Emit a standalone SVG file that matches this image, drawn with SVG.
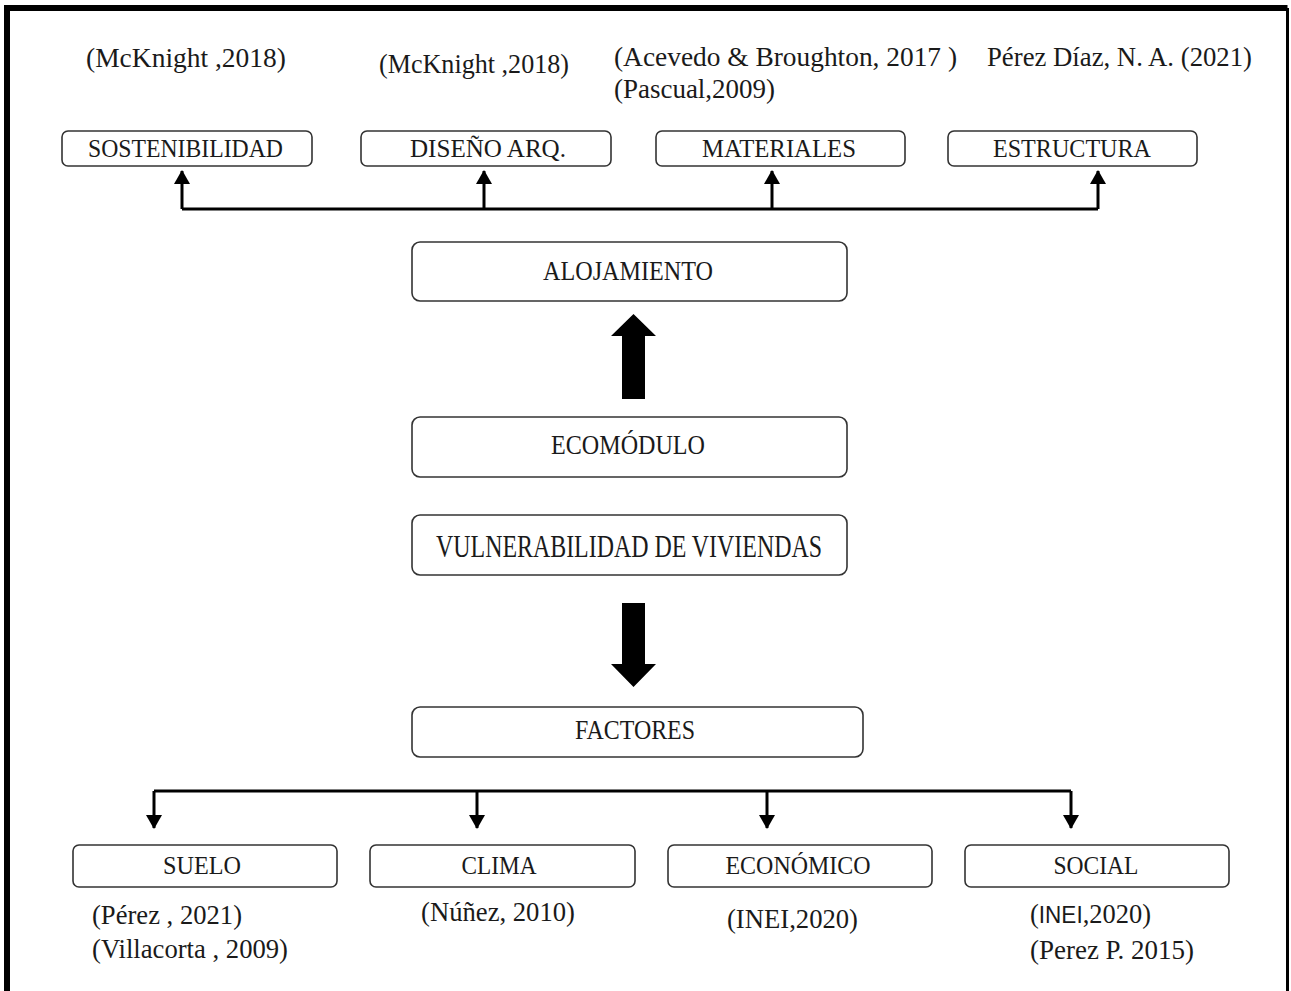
<svg xmlns="http://www.w3.org/2000/svg" width="1291" height="991" viewBox="0 0 1291 991">
<defs>
<style>
.bx{fill:#fff;stroke:#333;stroke-width:1.6}
.t{font-family:"Liberation Serif","Times New Roman",serif;fill:#1a1a1a}
.c{font-size:27px}
.b{font-size:25px}
.m{text-anchor:middle}
.ln{fill:none;stroke:#000;stroke-width:3}
.blk{fill:#000}
</style>
<marker id="ah" viewBox="0 0 14 16" refX="13" refY="8" markerWidth="14" markerHeight="16" markerUnits="userSpaceOnUse" orient="auto">
<path d="M0,0 L14,8 L0,16 Z" fill="#000"/>
</marker>
</defs>
<rect x="0" y="0" width="1291" height="991" fill="#fff"/>
<g id="frame">
<path d="M7,991 V8 H1287.5" fill="none" stroke="#000" stroke-width="6"/>
<path d="M1287.5,8 V991" stroke="#000" stroke-width="3"/>
</g>
<g id="citations-top" class="t c">
<text x="86" y="67" textLength="200" lengthAdjust="spacingAndGlyphs">(McKnight ,2018)</text>
<text x="379" y="73" textLength="190" lengthAdjust="spacingAndGlyphs">(McKnight ,2018)</text>
<text x="614" y="66" textLength="343" lengthAdjust="spacingAndGlyphs">(Acevedo &amp; Broughton, 2017  )</text>
<text x="614" y="98" textLength="161" lengthAdjust="spacingAndGlyphs">(Pascual,2009)</text>
<text x="987" y="66" textLength="265" lengthAdjust="spacingAndGlyphs">Pérez Díaz, N. A. (2021)</text>
</g>
<g id="n-sostenibilidad">
<rect class="bx" x="62" y="131" width="250" height="35" rx="6"/>
<text class="t b" x="88" y="157" textLength="195" lengthAdjust="spacingAndGlyphs">SOSTENIBILIDAD</text>
</g>
<g id="n-diseno">
<rect class="bx" x="361" y="131" width="250" height="35" rx="6"/>
<text class="t b" x="410" y="157" textLength="156" lengthAdjust="spacingAndGlyphs">DISEÑO ARQ.</text>
</g>
<g id="n-materiales">
<rect class="bx" x="656" y="131" width="249" height="35" rx="6"/>
<text class="t b" x="702" y="157" textLength="154" lengthAdjust="spacingAndGlyphs">MATERIALES</text>
</g>
<g id="n-estructura">
<rect class="bx" x="948" y="131" width="249" height="35" rx="6"/>
<text class="t b" x="993" y="157" textLength="158" lengthAdjust="spacingAndGlyphs">ESTRUCTURA</text>
</g>
<g id="n-alojamiento">
<rect class="bx" x="412" y="242" width="435" height="59" rx="8"/>
<text class="t c" x="543" y="280" textLength="170" lengthAdjust="spacingAndGlyphs">ALOJAMIENTO</text>
</g>
<g id="n-ecomodulo">
<rect class="bx" x="412" y="417" width="435" height="60" rx="8"/>
<text class="t c" x="551" y="454" textLength="154" lengthAdjust="spacingAndGlyphs">ECOMÓDULO</text>
</g>
<g id="n-vulnerabilidad">
<rect class="bx" x="412" y="515" width="435" height="60" rx="8"/>
<text class="t" style="font-size:31px" x="436" y="557" textLength="386" lengthAdjust="spacingAndGlyphs">VULNERABILIDAD DE VIVIENDAS</text>
</g>
<g id="n-factores">
<rect class="bx" x="412" y="707" width="451" height="50" rx="8"/>
<text class="t c" x="575" y="739" textLength="120" lengthAdjust="spacingAndGlyphs">FACTORES</text>
</g>
<g id="n-suelo">
<rect class="bx" x="73" y="845" width="264" height="42" rx="6"/>
<text class="t b m" x="202" y="874" textLength="78" lengthAdjust="spacingAndGlyphs">SUELO</text>
</g>
<g id="n-clima">
<rect class="bx" x="370" y="845" width="265" height="42" rx="6"/>
<text class="t b m" x="499" y="874" textLength="75" lengthAdjust="spacingAndGlyphs">CLIMA</text>
</g>
<g id="n-economico">
<rect class="bx" x="668" y="845" width="264" height="42" rx="6"/>
<text class="t b m" x="798" y="874" textLength="145" lengthAdjust="spacingAndGlyphs">ECONÓMICO</text>
</g>
<g id="n-social">
<rect class="bx" x="965" y="845" width="264" height="42" rx="6"/>
<text class="t b m" x="1096" y="874" textLength="85" lengthAdjust="spacingAndGlyphs">SOCIAL</text>
</g>
<g id="citations-bottom" class="t c">
<text x="92" y="924" textLength="150" lengthAdjust="spacingAndGlyphs">(Pérez , 2021)</text>
<text x="92" y="958" textLength="196" lengthAdjust="spacingAndGlyphs">(Villacorta , 2009)</text>
<text x="421" y="921" textLength="154" lengthAdjust="spacingAndGlyphs">(Núñez, 2010)</text>
<text x="727" y="928" textLength="131" lengthAdjust="spacingAndGlyphs">(INEI,2020)</text>
<text x="1030" y="923" textLength="121" lengthAdjust="spacingAndGlyphs">(<tspan style="font-family:'Liberation Sans',Arial,sans-serif;font-size:23px">INEI</tspan>,2020)</text>
<text x="1030" y="959" textLength="164" lengthAdjust="spacingAndGlyphs">(Perez P. 2015)</text>
</g>
<g id="connectors">
<path class="ln" d="M182,209 H1098"/>
<path class="ln" d="M182,209 V171" marker-end="url(#ah)"/>
<path class="ln" d="M484,209 V171" marker-end="url(#ah)"/>
<path class="ln" d="M772,209 V171" marker-end="url(#ah)"/>
<path class="ln" d="M1098,209 V171" marker-end="url(#ah)"/>
<path class="blk" d="M622,399 V336 H611 L633.5,314 L656,336 H645 V399 Z"/>
<path class="blk" d="M622,603 V664 H611 L633.5,687 L656,664 H645 V603 Z"/>
<path class="ln" d="M154,791 H1071"/>
<path class="ln" d="M154,791 V828" marker-end="url(#ah)"/>
<path class="ln" d="M477,791 V828" marker-end="url(#ah)"/>
<path class="ln" d="M767,791 V828" marker-end="url(#ah)"/>
<path class="ln" d="M1071,791 V828" marker-end="url(#ah)"/>
</g>
</svg>
